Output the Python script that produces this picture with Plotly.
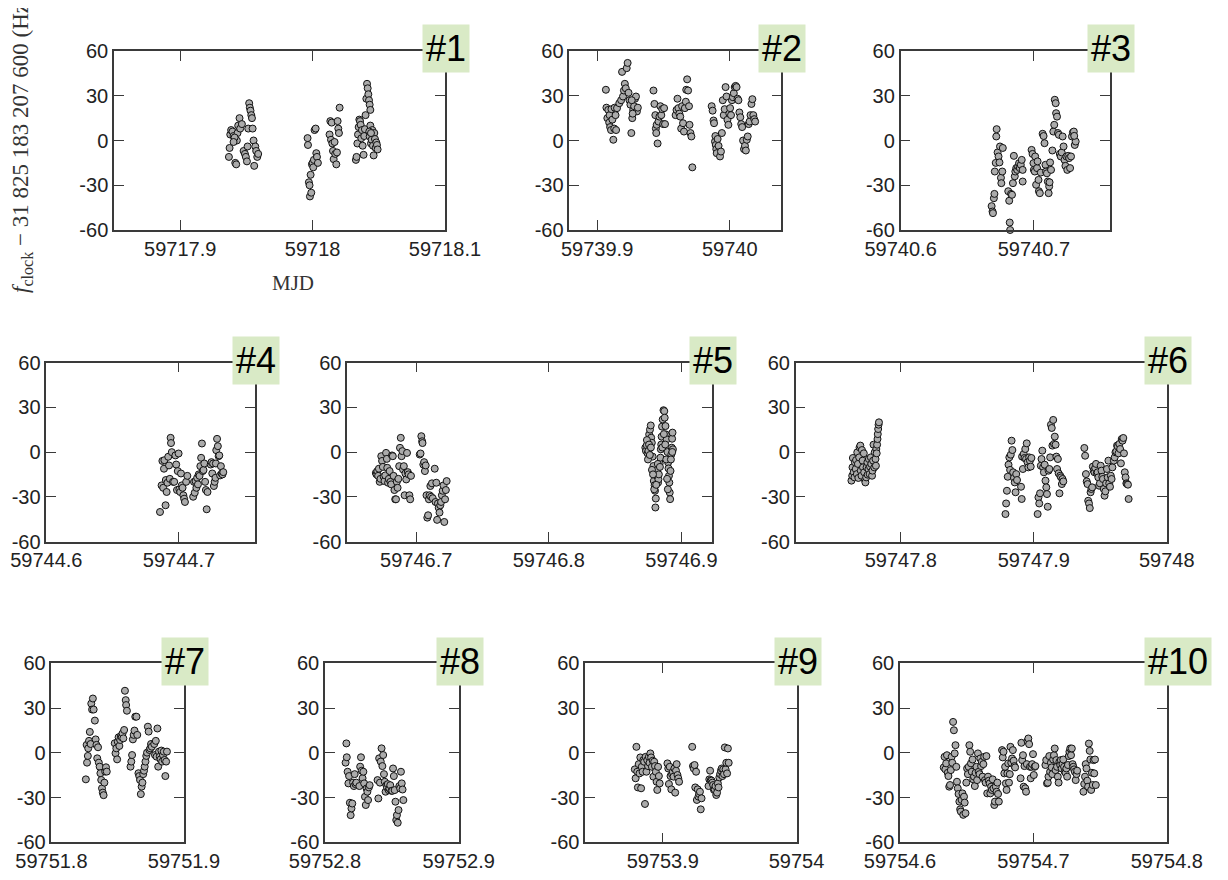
import plotly.graph_objects as go

# ---------------- data (MJD, f_clock - 31 825 183 207 600 Hz) ----------------
mjd_1 = [59717.9368, 59717.9373, 59717.9378, 59717.9385, 59717.9395, 59717.9403, 59717.9416, 59717.9423, 59717.9428, 59717.9433,
         59717.9438, 59717.9448, 59717.9453, 59717.9466, 59717.9479, 59717.9489, 59717.9496, 59717.9504, 59717.9509, 59717.9514,
         59717.9521, 59717.9526, 59717.9531, 59717.9537, 59717.9542, 59717.9547, 59717.9554, 59717.9559, 59717.9567, 59717.9574,
         59717.9582, 59717.9589, 59717.9411, 59717.9403,
         59717.9962, 59717.9965, 59717.9972, 59717.9977, 59717.9980, 59717.9985, 59717.9990, 59717.9995, 59718.0000, 59718.0005,
         59718.0010, 59718.0015, 59718.0023, 59718.0028, 59718.0033, 59718.0040,
         59718.0128, 59718.0134, 59718.0139, 59718.0144, 59718.0149, 59718.0154, 59718.0159, 59718.0166, 59718.0171, 59718.0179,
         59718.0184, 59718.0189, 59718.0194, 59718.0199, 59718.0204,
         59718.0327, 59718.0332, 59718.0338, 59718.0343, 59718.0348, 59718.0353, 59718.0358, 59718.0363, 59718.0368, 59718.0373,
         59718.0378, 59718.0385, 59718.0390, 59718.0395, 59718.0400, 59718.0406, 59718.0411, 59718.0416, 59718.0421, 59718.0426,
         59718.0431, 59718.0436, 59718.0431, 59718.0436, 59718.0441, 59718.0446, 59718.0451, 59718.0456, 59718.0461, 59718.0466,
         59718.0471, 59718.0476, 59718.0481, 59718.0486, 59718.0491, 59718.0428, 59718.0441]
df_1 = [-11, -5, 4, 7, 6, 3, -15, -16, 0, 5, 10, 15, 8, 11, -7, -9, -11, -14, -4, 8, 25, 22, 20, 17, 15, 8, 0, -17, -4, -7, -11, -9, 2, -1,
        1.6, -3, -28, -30, -37.5, -23, -35, -16, -15, -18, -13, 7, 8, -8.5, -11, -15,
        4, 13, 0.5, 12, -2, -7, -12.5, -1, -9, -16, -8, 13, 8, 5, 22,
        -13, -11, -2, 4, 9, 14, 13, 10.5, 1.5, 7, -3.5, -9.6, 3, 7.6, 17, 28, 38, 35, 31, 27,
        24, 20.5, 2.7, 10, -2, 0.5, 7, -3.5, -10, 5, 1, -5, -1.3, -3, -6, 6, 5]

mjd_2 = [59739.9066, 59739.9070, 59739.9077, 59739.9084, 59739.9091, 59739.9094, 59739.9098, 59739.9105, 59739.9108, 59739.9115,
         59739.9122, 59739.9129, 59739.9132, 59739.9139, 59739.9143, 59739.9150, 59739.9167, 59739.9181, 59739.9188, 59739.9195,
         59739.9202, 59739.9209, 59739.9216, 59739.9223, 59739.9230, 59739.9237, 59739.9244, 59739.9251, 59739.9258, 59739.9265,
         59739.9272, 59739.9279, 59739.9286, 59739.9293, 59739.9300, 59739.9307, 59739.9268, 59739.9261,
         59739.9425, 59739.9432, 59739.9439, 59739.9443, 59739.9446, 59739.9449, 59739.9456, 59739.9463, 59739.9470, 59739.9477,
         59739.9484, 59739.9491, 59739.9498, 59739.9505, 59739.9512,
         59739.9592, 59739.9599, 59739.9606, 59739.9613, 59739.9620, 59739.9627, 59739.9634, 59739.9641, 59739.9648, 59739.9655,
         59739.9662, 59739.9669, 59739.9672, 59739.9679, 59739.9686, 59739.9693, 59739.9697, 59739.9704, 59739.9711, 59739.9718,
         59739.9864, 59739.9871, 59739.9878, 59739.9882, 59739.9889, 59739.9892, 59739.9895, 59739.9899, 59739.9902, 59739.9909,
         59739.9916, 59739.9927, 59739.9934, 59739.9941, 59739.9948, 59739.9955, 59739.9962, 59739.9969, 59739.9976, 59739.9983,
         59739.9990, 59739.9997, 59740.0003, 59740.0010, 59740.0017, 59740.0024, 59740.0031, 59740.0038, 59740.0045, 59740.0052,
         59740.0059, 59740.0066, 59740.0073, 59740.0080, 59740.0087, 59740.0094, 59740.0101, 59740.0108, 59740.0115, 59740.0122,
         59740.0129, 59740.0136, 59740.0143, 59740.0150, 59740.0157, 59740.0164, 59740.0171, 59740.0178, 59740.0185, 59740.0192]
df_2 = [34, 22, 15, 20.5, 12, 17, 9, 7, 21, 14, 0.5, 8, 22, 17, 7, 21.7, 25, 27, 46, 29.5,
        33.5, 38, 35, 48.5, 52, 32, 27, 24, 5, 15, 20.5, 23, 28, 29.5, 19.5, 22, 18, 27,
        33.5, 24.5, 17, 8, 5, 10.5, -2, 12.7, 16, 23, 17, 21, 11, 21.7, 11,
        17, 20.5, 28, 21.7, 18, 16, 8, 23, 11.6, 6, 21.7, 26, 34, 41, 33.5, 23, 10.5, 5, 2.7, -18,
        23, 20, 13.4, 11.6, -0.7, 3, -3, -5.8, -8.5, 1, -3.6, -10.7, -7.4, 5, 27, 17, 21, 35.8, 29.5, 13.9,
        10.5, 18, 21.7, 17, 27, 29, 31.7, 35.8, 36.6, 35.8, 28, 27, 18.8, 15.6, 11, 9, 0, -5.8, -3.6, -6.7,
        0.5, 2.7, 11, 12.7, 17, 24.5, 27.7, 17, 14.3, 12.7]

mjd_3 = [59740.6683, 59740.6690, 59740.6693, 59740.6700, 59740.6704, 59740.6707, 59740.6714, 59740.6718, 59740.6721, 59740.6728,
         59740.6735, 59740.6742, 59740.6746, 59740.6753, 59740.6756, 59740.6763, 59740.6767, 59740.6808, 59740.6815, 59740.6819,
         59740.6822, 59740.6829, 59740.6836, 59740.6843, 59740.6850, 59740.6857, 59740.6861, 59740.6868, 59740.6875, 59740.6882,
         59740.6889, 59740.6895, 59740.6902, 59740.6909, 59740.6916, 59740.6916, 59740.6983, 59740.6990, 59740.6997, 59740.7000,
         59740.7007, 59740.7010, 59740.7017, 59740.7024, 59740.7028, 59740.7035, 59740.7038, 59740.7045, 59740.7052, 59740.7066,
         59740.7073, 59740.7080, 59740.7087, 59740.7091, 59740.7098, 59740.7105, 59740.7111, 59740.7115, 59740.7118, 59740.7122,
         59740.7129, 59740.7139, 59740.7146, 59740.7153, 59740.7157, 59740.7164, 59740.7167, 59740.7174, 59740.7181, 59740.7188,
         59740.7195, 59740.7202, 59740.7209, 59740.7216, 59740.7223, 59740.7230, 59740.7237, 59740.7244, 59740.7251, 59740.7258,
         59740.7265, 59740.7272, 59740.7279, 59740.7286, 59740.7293, 59740.7300, 59740.7307, 59740.7314, 59740.7303]
df_3 = [-44, -47.6, -48.7, -38.7, -35.8, -20.8, -15, 2.7, 7.6, -8,
        -10.7, -14.7, -4, -25, -28.6, -20.8, -5, -34, -40.4, -55,
        -60, -35.8, -36.4, -28.6, -10.3, -24, -20.8, -18.5, -19.7, -17.4,
        -15.2, -18.5, -16.3, -13, -27.5, -19.7, -6.3, -9, -15.2, -19.7,
        -20.8, -10.7, -29.7, -18.5, -14, -26.4, -34, -35.3, -21.5, 4.5,
        3, -1.8, -16.3, -20.8, -22, -27.5, -35.3, -30.8, -28, -14.7,
        -19.7, -6.7, 6, 10.5, 27.3, 25, 18.3, 16, 5, 3.8,
        -9, -10.7, -8, 2.7, -4, -13, -17, -10.7, -19.7, -10.3,
        -11.8, -18.5, -10.7, 2.7, 5.4, 6, -3, -0.7, 3.1]

mjd_4 = [59744.6857, 59744.6869, 59744.6875, 59744.6881, 59744.6887, 59744.6890, 59744.6899, 59744.6901, 59744.6907, 59744.6913,
         59744.6919, 59744.6925, 59744.6931, 59744.6937, 59744.6940, 59744.6946, 59744.6955, 59744.6964, 59744.6973, 59744.6979,
         59744.6985, 59744.6991, 59744.6997, 59744.7003, 59744.7009, 59744.7015, 59744.7021, 59744.7027, 59744.7033, 59744.7039,
         59744.7045, 59744.7054, 59744.7063, 59744.7107, 59744.7113, 59744.7119, 59744.7125, 59744.7131, 59744.7137, 59744.7143,
         59744.7149, 59744.7155, 59744.7161, 59744.7167, 59744.7173, 59744.7179, 59744.7185, 59744.7191, 59744.7197, 59744.7203,
         59744.7209, 59744.7215, 59744.7239, 59744.7245, 59744.7251, 59744.7257, 59744.7263, 59744.7269, 59744.7275, 59744.7278,
         59744.7281, 59744.7287, 59744.7293, 59744.7299, 59744.7304, 59744.7310, 59744.7316, 59744.7322, 59744.7328, 59744.7334]
df_4 = [-40.2, -22.4, -6, -24, -11.2, -5.5, -35.7, -18.8, -26.8, -20.6,
        -3.2, -9, -18, 9.5, 6, -0.1, -20, -20, -2.3, -8.4,
        -25.5, -12.8, -1, -25, -26.8, -14.4, -22.4, -24, -29, -31.3,
        -33.5, -20, -16, -30, -20, -27.3, -19.5, -24, -17.3, -21.7,
        -15, -16, -9.5, -3.9, 5.7, -12.8, -12.1, -7.7, -20, -25.5,
        -38.4, -26.8, -8.4, -6.8, -14.4, -7.7, -22.8, -20, -17.3, -7.7,
        1.2, 8.8, 3.9, -2.8, -2.3, -15.7, -9.5, -14.4, -15, -13.5]

mjd_5 = [59746.6696, 59746.6701, 59746.6707, 59746.6713, 59746.6719, 59746.6725, 59746.6731, 59746.6737, 59746.6743, 59746.6749,
         59746.6755, 59746.6761, 59746.6767, 59746.6773, 59746.6779, 59746.6782, 59746.6788, 59746.6794, 59746.6800, 59746.6806,
         59746.6812, 59746.6818, 59746.6824, 59746.6830, 59746.6836, 59746.6842, 59746.6848, 59746.6854, 59746.6860, 59746.6866,
         59746.6872, 59746.6878, 59746.6884, 59746.6890, 59746.6896, 59746.6901, 59746.6907, 59746.6913, 59746.6919, 59746.6925,
         59746.6931, 59746.6937, 59746.6943, 59746.6949, 59746.6955, 59746.6961, 59746.7027, 59746.7033, 59746.7039, 59746.7045,
         59746.7048, 59746.7054, 59746.7060, 59746.7066, 59746.7072, 59746.7078, 59746.7084, 59746.7090, 59746.7096, 59746.7101,
         59746.7107, 59746.7113, 59746.7119, 59746.7125, 59746.7140, 59746.7146, 59746.7152, 59746.7158, 59746.7164, 59746.7170,
         59746.7176, 59746.7182, 59746.7188, 59746.7194, 59746.7200, 59746.7206, 59746.7212, 59746.7218, 59746.7224, 59746.7230,
         59746.8728, 59746.8733, 59746.8739, 59746.8745, 59746.8751, 59746.8757, 59746.8763, 59746.8769, 59746.8772, 59746.8777,
         59746.8783, 59746.8789, 59746.8792, 59746.8798, 59746.8801, 59746.8804, 59746.8807, 59746.8813, 59746.8818, 59746.8824,
         59746.8827, 59746.8830, 59746.8836, 59746.8842, 59746.8845, 59746.8851, 59746.8854, 59746.8859, 59746.8865, 59746.8871,
         59746.8874, 59746.8880, 59746.8883, 59746.8889, 59746.8895, 59746.8900, 59746.8903, 59746.8906, 59746.8909, 59746.8912,
         59746.8915, 59746.8918, 59746.8924, 59746.8927, 59746.8930, 59746.8933, 59746.8936,
         59746.8740, 59746.8748, 59746.8756, 59746.8762, 59746.8770, 59746.8778, 59746.8786, 59746.8795, 59746.8810, 59746.8822,
         59746.8838, 59746.8848, 59746.8856, 59746.8868, 59746.8878, 59746.8886, 59746.8892, 59746.8898, 59746.8921, 59746.8931]
df_5 = [-14, -15, -12.8, -16, -11.2, -20, -18, -2.8, -6, -10,
        -16.6, -19.5, -15.7, -0.6, -4.6, -10.6, -20.6, -18, -12.8, -20,
        -21.7, -2.3, -2.8, -16, -25.5, -31.7, -31.7, -20, -24, -18,
        -9.5, 2.8, 9.5, -2.8, 0.6, -11.7, -9.5, -29, -14.4, -18.4,
        -0.6, -13.5, -15, -29, -31.7, -16, -1.7, -1, 10.6, 7.2,
        6, -8.4, -6.8, -12.8, -9, -29, -44, -42.4, -31.7, -29,
        -22.8, -30, -21, -31, -11.2, -33.5, -20.6, -45.5, -34.5, -37.4,
        -40.6, -35.7, -33.5, -29, -26, -22.4, -46.9, -31.7, -25.5, -19.5,
        2.9, 0.7, 4.5, -0.9, 0.7, 11.8, 15, 17.8, 9.6, 6.2,
        -3.1, -9.4, -19.4, -22.3, -26, -37.2, -31.2, -16, -12, -20.5,
        -18.3, -15, -7.6, -3.8, 1.8, 10.3, 17, 21.8, 28, 27.4,
        23, 17.4, 11.8, 8.5, 0, -7, -11, -16, -20.5, -27.2,
        -31.6, -12.7, -1.6, 2.9, 8.9, 13, 1.8,
        8, -5, 5, -2, 3, -12, -15, -25, -22, -8,
        -10, 5, 3, 12, 5, -5, -18, -25, -5, 0]

mjd_6 = [59747.7629, 59747.7635, 59747.7637, 59747.7640, 59747.7646, 59747.7652, 59747.7655, 59747.7661, 59747.7664, 59747.7670,
         59747.7673, 59747.7678, 59747.7681, 59747.7687, 59747.7690, 59747.7696, 59747.7699, 59747.7705, 59747.7708, 59747.7713,
         59747.7716, 59747.7722, 59747.7725, 59747.7731, 59747.7734, 59747.7740, 59747.7743, 59747.7749, 59747.7751, 59747.7757,
         59747.7760, 59747.7766, 59747.7769, 59747.7775, 59747.7778, 59747.7784, 59747.7787, 59747.7792, 59747.7795, 59747.7801,
         59747.7804, 59747.7810, 59747.7813, 59747.7816, 59747.7819, 59747.7822, 59747.7825, 59747.7827, 59747.7830, 59747.7833,
         59747.7836,
         59747.8787, 59747.8792, 59747.8798, 59747.8804, 59747.8810, 59747.8816, 59747.8822, 59747.8827, 59747.8833, 59747.8839,
         59747.8845, 59747.8851, 59747.8857, 59747.8863, 59747.8868, 59747.8874, 59747.8904, 59747.8909, 59747.8912, 59747.8918,
         59747.8924, 59747.8930, 59747.8936, 59747.8942, 59747.8947, 59747.8953, 59747.8959, 59747.8965, 59747.8971, 59747.8977,
         59747.8982, 59747.9029, 59747.9035, 59747.9041, 59747.9047, 59747.9053, 59747.9058, 59747.9064, 59747.9070, 59747.9076,
         59747.9082, 59747.9088, 59747.9094, 59747.9099, 59747.9105, 59747.9111, 59747.9117, 59747.9123, 59747.9129, 59747.9135,
         59747.9140, 59747.9146, 59747.9152, 59747.9158, 59747.9164, 59747.9170, 59747.9175, 59747.9181, 59747.9187, 59747.9193,
         59747.9199, 59747.9205, 59747.9211, 59747.9216, 59747.9222,
         59747.9380, 59747.9386, 59747.9392, 59747.9398, 59747.9404, 59747.9409, 59747.9415, 59747.9421, 59747.9427, 59747.9433,
         59747.9439, 59747.9444, 59747.9450, 59747.9456, 59747.9462, 59747.9468, 59747.9474, 59747.9480, 59747.9485, 59747.9491,
         59747.9497, 59747.9503, 59747.9509, 59747.9515, 59747.9520, 59747.9526, 59747.9532, 59747.9538, 59747.9544, 59747.9550,
         59747.9556, 59747.9561, 59747.9567, 59747.9573, 59747.9579, 59747.9585, 59747.9591, 59747.9602, 59747.9608, 59747.9614,
         59747.9620, 59747.9626, 59747.9632, 59747.9637, 59747.9643, 59747.9649, 59747.9655, 59747.9661, 59747.9667, 59747.9673,
         59747.9678, 59747.9684, 59747.9690, 59747.9696, 59747.9702, 59747.9708, 59747.9713]
df_6 = [-19.2, -15.9, -10.3, -4, -13.6, -17, -6.9, -11.4, -5.4, -14.8,
        -0.2, -8, -17.4, -3.6, 3.1, 4.3, -12.5, -15.9, 1.3, -5.8,
        -10.3, -0.9, -13.6, -18.8, -20.4, -17, -10.3, -6.9, -15.2, -11.4,
        -4.7, -14.8, -9.8, -3.6, -8, -15.9, -12.5, -5.8, 4.9, -10.3,
        -0.2, -4.7, -9.2, 2, -0.9, 4.9, 8.7, 12, 15.4, 18.3,
        19.9,
        -41.6, -34.5, -26, -16.6, -8.5, -3.6, -12, -1.8, 7.6, 1.3,
        -13.6, -17.4, -20.4, -27, -14.8, -18.8, -23.3, -31.5, -3.1, -11.4,
        -1.3, -4, 2, -4.7, 5.8, -6.9, -10.3, -3.6, -5.8, -9.8,
        -4, -41.6, -30.4, -34.5, -27.7, -9.2, -4.7, 0.9, -10.3, -13.6,
        -8.5, -19.2, -23.7, -28.2, -36.7, -12.5, -11.4, -3.6, 18.3, 16.1,
        4.3, 21.5, 5.4, 10.3, 4.9, -3.1, -11.4, -4.7, -14.3, -27.7,
        -15.9, -17, -21.5, -18.1, -19.7,
        2.7, -2.5, -14.8, -19.7, -21.5, -32.7, -34.5, -37.6, -27, -24.8,
        -23.7, -9.8, -12.5, -13.6, -10.7, -8, -14.3, -13.6, -17, -22.6,
        -21, -9.2, -12.5, -16.6, -18.1, -24.8, -29.3, -26.4, -21, -11.4,
        -17, -5.8, -21, -23.3, -15.9, -18.1, -10.3, -5.8, -3.6, -0.2,
        0.4, 4.3, 3.6, -0.9, 5.4, 2, -7.6, 8.7, 7.6, 9.4,
        -0.9, -13.6, -17, -21, -21.5, -21.9, -31.5]

mjd_7 = [59751.8260, 59751.8266, 59751.8269, 59751.8275, 59751.8278, 59751.8284, 59751.8290, 59751.8296, 59751.8301, 59751.8307,
         59751.8313, 59751.8319, 59751.8328, 59751.8334, 59751.8340, 59751.8346, 59751.8352, 59751.8358, 59751.8364, 59751.8370,
         59751.8376, 59751.8382, 59751.8388, 59751.8394, 59751.8400, 59751.8406, 59751.8412, 59751.8418, 59751.8478, 59751.8484,
         59751.8490, 59751.8496, 59751.8501, 59751.8507, 59751.8513, 59751.8519, 59751.8525, 59751.8531, 59751.8537, 59751.8543,
         59751.8549, 59751.8555, 59751.8561, 59751.8564, 59751.8570, 59751.8597, 59751.8603, 59751.8609, 59751.8615, 59751.8621,
         59751.8627, 59751.8633, 59751.8642, 59751.8648, 59751.8657, 59751.8663, 59751.8669, 59751.8675, 59751.8681, 59751.8687,
         59751.8693, 59751.8699, 59751.8704, 59751.8710, 59751.8716, 59751.8722, 59751.8728, 59751.8734, 59751.8740, 59751.8746,
         59751.8752, 59751.8758, 59751.8776, 59751.8782, 59751.8788, 59751.8794, 59751.8800, 59751.8806, 59751.8812, 59751.8818,
         59751.8824, 59751.8830, 59751.8836, 59751.8842, 59751.8848, 59751.8854, 59751.8860, 59751.8866, 59751.8872]
df_7 = [-17.8, 5.3, -6.6, -2.1, 3, 8, 14, 5.9, 33, 29,
        36.4, 29, 21.6, 9, 5.3, -3.7, 3.7, -6.6, -9.3, -13.7,
        -18.2, -23.8, -26.7, -28.4, -20, -12.6, -9.7, -12.6, 6.4, -0.3,
        3, -4.4, 7.4, 10.4, 4.6, 8.6, 11.3, 10.4, 13, 9.7,
        15.3, 41.6, 35.3, 32, 28.2, -9.3, -5.9, -1.5, 9, 12,
        14.9, 24.2, 24.2, 12, -13.7, -15.6, -18.2, -27.7, -22.7, -20,
        -14.3, -12, -9.3, -5.9, -2.1, 0.1, 17.5, 14.2, 1.9, 3,
        5.9, 4.1, 5.9, -1.5, 8, -2.6, 16.3, -9.3, 0.8, -2.6,
        -4.4, 1.5, -5.9, -1.5, 0.8, -4.8, -15.6, -5.9, 0.8]

mjd_8 = [59752.8154, 59752.8160, 59752.8163, 59752.8169, 59752.8175, 59752.8180, 59752.8186, 59752.8192, 59752.8198, 59752.8204,
         59752.8210, 59752.8216, 59752.8222, 59752.8228, 59752.8234, 59752.8257, 59752.8263, 59752.8269, 59752.8275, 59752.8281,
         59752.8287, 59752.8293, 59752.8299, 59752.8305, 59752.8311, 59752.8317, 59752.8322, 59752.8328, 59752.8334, 59752.8393,
         59752.8399, 59752.8405, 59752.8411, 59752.8417, 59752.8423, 59752.8429, 59752.8435, 59752.8441, 59752.8447, 59752.8453,
         59752.8459, 59752.8464, 59752.8470, 59752.8476, 59752.8482, 59752.8488, 59752.8497, 59752.8503, 59752.8509, 59752.8515,
         59752.8521, 59752.8527, 59752.8533, 59752.8538, 59752.8544, 59752.8550, 59752.8556, 59752.8562, 59752.8568, 59752.8574,
         59752.8580, 59752.8586]
df_8 = [-6.6, 6.3, -3, -12.7, -20.5, -15.6, -33.5, -41.8, -37.3, -34,
        -20, -22.3, -14.3, -21, -20, -22.3, -9.3, -3, -12, -17,
        -12.7, -20.5, -29.5, -35, -23.9, -26.1, -31.7, -23.2, -21.7, -18.3,
        -30.6, -3.7, -20, -5.9, 3, -8.9, -1.5, -14.3, -19.4, -26.1,
        -21.7, -23.2, -21, -25, -23.9, -21.7, -25.5, -25.5, -10.5, -15.6,
        -25, -32.8, -45.1, -41.8, -46.9, -38.4, -22.3, -23.9, -12.7, -20.5,
        -24.6, -31.7]

mjd_9 = [59753.8791, 59753.8797, 59753.8803, 59753.8809, 59753.8814, 59753.8820, 59753.8826, 59753.8832, 59753.8838, 59753.8843,
         59753.8849, 59753.8855, 59753.8861, 59753.8867, 59753.8872, 59753.8878, 59753.8884, 59753.8890, 59753.8896, 59753.8901,
         59753.8907, 59753.8913, 59753.8919, 59753.8925, 59753.8930, 59753.8936, 59753.8942, 59753.8948, 59753.8954, 59753.8959,
         59753.8965, 59753.8971, 59753.8977, 59753.9035, 59753.9041, 59753.9046, 59753.9052, 59753.9058, 59753.9064, 59753.9070,
         59753.9075, 59753.9081, 59753.9087, 59753.9093, 59753.9099, 59753.9104, 59753.9110, 59753.9116, 59753.9122, 59753.9220,
         59753.9226, 59753.9232, 59753.9238, 59753.9243, 59753.9249, 59753.9255, 59753.9261, 59753.9267, 59753.9272, 59753.9278,
         59753.9284, 59753.9290, 59753.9342, 59753.9348, 59753.9354, 59753.9359, 59753.9365, 59753.9371, 59753.9377, 59753.9383,
         59753.9388, 59753.9394, 59753.9400, 59753.9406, 59753.9412, 59753.9417, 59753.9423, 59753.9429, 59753.9435, 59753.9441,
         59753.9446, 59753.9452, 59753.9458, 59753.9464, 59753.9470, 59753.9475, 59753.9481, 59753.9487, 59753.9493]
df_9 = [-11.1, -17.1, 4, -12.7, -23.2, -7.6, -13.8, -3.1, -23.8, -9.4,
        -12.7, -4.9, -6, -34.3, -2.7, -12.7, -4.9, -8.9, -2.7, -6.7,
        -0.4, -3.1, -9.4, -5.3, -16, -6, -8.9, -12.7, -19.4, -24.9,
        -9.4, -15.6, -20.5, -7.1, -10.5, -20.9, -9.4, -15.6, -24.5, -14.3,
        -12.7, -16, -10.5, -26.7, -12, -7.6, -14.9, -17.1, -19.4, 4,
        -8.9, -10.5, -8.2, -23.2, -12.7, -31.6, -24.5, -29.4, -27.6, -26.1,
        -37.9, -30.5, -22.3, -17.8, -12, -18.3, -18.7, -20, -21.6, -24.9,
        -24.5, -22.3, -28.3, -26.7, -20.5, -23.2, -16.5, -14.3, -12, -10.5,
        -15.6, -11.1, -14.3, 3.6, -11.1, -6.7, -13.8, 2.9, -6.7]

mjd_10 = [59754.6328, 59754.6334, 59754.6340, 59754.6346, 59754.6352, 59754.6358, 59754.6363, 59754.6369, 59754.6375, 59754.6381,
          59754.6387, 59754.6392, 59754.6398, 59754.6404, 59754.6410, 59754.6416, 59754.6422, 59754.6427, 59754.6433, 59754.6439,
          59754.6445, 59754.6451, 59754.6456, 59754.6462, 59754.6468, 59754.6474, 59754.6480, 59754.6485, 59754.6491, 59754.6497,
          59754.6503, 59754.6509, 59754.6515, 59754.6520, 59754.6526, 59754.6532, 59754.6538, 59754.6544, 59754.6549, 59754.6555,
          59754.6561, 59754.6567, 59754.6573, 59754.6578, 59754.6584, 59754.6590, 59754.6596, 59754.6602, 59754.6608, 59754.6613,
          59754.6619, 59754.6625, 59754.6631, 59754.6637, 59754.6642, 59754.6648, 59754.6654, 59754.6660, 59754.6666, 59754.6672,
          59754.6677, 59754.6683, 59754.6689, 59754.6695, 59754.6701, 59754.6707, 59754.6712, 59754.6718, 59754.6724, 59754.6730,
          59754.6735, 59754.6741, 59754.6765, 59754.6770, 59754.6776, 59754.6782, 59754.6788, 59754.6794, 59754.6799, 59754.6805,
          59754.6811, 59754.6817, 59754.6823, 59754.6828, 59754.6834, 59754.6840, 59754.6846, 59754.6852, 59754.6858, 59754.6863,
          59754.6904, 59754.6910, 59754.6916, 59754.6922, 59754.6927, 59754.6933, 59754.6939, 59754.6945, 59754.6951, 59754.6956,
          59754.6962, 59754.6968, 59754.6974, 59754.6980, 59754.6985, 59754.6991, 59754.6997, 59754.7003, 59754.7009, 59754.7015,
          59754.7090, 59754.7096, 59754.7102, 59754.7108, 59754.7113, 59754.7119, 59754.7125, 59754.7131, 59754.7137, 59754.7142,
          59754.7148, 59754.7154, 59754.7160, 59754.7166, 59754.7172, 59754.7177, 59754.7183, 59754.7189, 59754.7195, 59754.7201,
          59754.7206, 59754.7212, 59754.7218, 59754.7224, 59754.7230, 59754.7235, 59754.7241, 59754.7247, 59754.7253, 59754.7259,
          59754.7265, 59754.7270, 59754.7276, 59754.7282, 59754.7288, 59754.7294, 59754.7299, 59754.7305, 59754.7311, 59754.7317,
          59754.7323, 59754.7328, 59754.7375, 59754.7381, 59754.7387, 59754.7392, 59754.7398, 59754.7404, 59754.7410, 59754.7416,
          59754.7422, 59754.7427, 59754.7433, 59754.7439, 59754.7445, 59754.7451, 59754.7456, 59754.7462, 59754.7468]
df_10 = [-9.8, -2.7, -11.1, -7.1, -1.6, -13.4, -15.6, -22.7, -21.6, -11.6,
         -2.7, -6.7, 20.7, 15.1, -0.4, 5.1, -9.4, -19.4, -23.8, -27.6,
         -32.7, -37.9, -39.4, -31.6, -27.2, -41.6, -29.4, -33.4, -40.5, -20,
         -10.5, -14.3, -9.4, 5.1, 0.7, -7.1, -12.7, -4.5, -17.8, -16,
         -22.3, -13.4, -9.4, -18.3, -0.4, -12.7, -14.3, -3.8, -8.9, -6,
         -16, -7.6, -2.7, -18.3, -20, -2.2, -27.2, -16, -18.7, -20.5,
         -27.2, -22.7, -24.9, -17.8, -23.8, -35, -32.7, -22.7, -26.1, -20,
         -27.6, -32.7, 1.8, -3.1, 0.7, -13.8, -9.4, -20.5, -24.9, -13.8,
         -7.1, -20, -14.3, 4, -6.7, -3.8, 1.8, -5.3, -8.9, -9.8,
         -17.1, 6.7, -4.9, -1.6, -22.7, -8.9, -23.8, -26.1, -7.6, 8,
         9.6, 5.8, -9.4, -17.1, -9.4, -7.6, -0.9, -14.9, -9.4, -8.9,
         -8.2, -4.9, -20.5, -20, -16, -2.2, -12.7, -6.7, -9.8, -14.3,
         -4.5, -1.6, 2.9, -11.6, -4.9, -9.4, -16, -20, -6, -8.2,
         -4.9, -10.5, -7.6, -4.5, -9.4, -12.7, -13.4, -10.5, -16, -8.2,
         -2.2, 0.7, 2.9, -1.6, 2.9, -7.6, -9.4, -11.1, -12.7, -18.3,
         -14.3, -12, -26.1, -20.9, -16, -7.6, -10.5, -18.7, -22.7, 6.2,
         1.3, -4.5, -24.9, -13.4, -21.6, -4.9, -13.8, -4.5, -21.6]

# tick values / labels
y_tickvals = [-60, -30, 0, 30, 60]
y_ticktext = ["-60", "-30", "0", "30", "60"]
x_ticks_1 = [59717.9, 59718.0, 59718.1]
x_labels_1 = ["59717.9", "59718", "59718.1"]
x_ticks_2 = [59739.9, 59740.0]
x_labels_2 = ["59739.9", "59740"]
x_ticks_3 = [59740.6, 59740.7]
x_labels_3 = ["59740.6", "59740.7"]
x_ticks_4 = [59744.6, 59744.7]
x_labels_4 = ["59744.6", "59744.7"]
x_ticks_5 = [59746.7, 59746.8, 59746.9]
x_labels_5 = ["59746.7", "59746.8", "59746.9"]
x_ticks_6 = [59747.8, 59747.9, 59748.0]
x_labels_6 = ["59747.8", "59747.9", "59748"]
x_ticks_7 = [59751.8, 59751.9]
x_labels_7 = ["59751.8", "59751.9"]
x_ticks_8 = [59752.8, 59752.9]
x_labels_8 = ["59752.8", "59752.9"]
x_ticks_9 = [59753.9, 59754.0]
x_labels_9 = ["59753.9", "59754"]
x_ticks_10 = [59754.6, 59754.7, 59754.8]
x_labels_10 = ["59754.6", "59754.7", "59754.8"]
panel_labels = ["#1", "#2", "#3", "#4", "#5", "#6", "#7", "#8", "#9", "#10"]

# ---------------- layout geometry (screen pixels; page body has an 8px margin) ----------------
OFF = 8
W, H = 1228 - 2 * OFF, 880 - 2 * OFF
panels = [
    dict(x=mjd_1, y=df_1, xr=[59717.85, 59718.1], tv=x_ticks_1, tt=x_labels_1, px=(114, 445), py=(51, 230)),
    dict(x=mjd_2, y=df_2, xr=[59739.879, 59740.039], tv=x_ticks_2, tt=x_labels_2, px=(569.3, 781.4), py=(51, 230)),
    dict(x=mjd_3, y=df_3, xr=[59740.6, 59740.757], tv=x_ticks_3, tt=x_labels_3, px=(900.6, 1109.8), py=(51, 230)),
    dict(x=mjd_4, y=df_4, xr=[59744.6, 59744.757], tv=x_ticks_4, tt=x_labels_4, px=(46.3, 254.6), py=(362.5, 541.5)),
    dict(x=mjd_5, y=df_5, xr=[59746.648, 59746.923], tv=x_ticks_5, tt=x_labels_5, px=(347.2, 711.9), py=(362.5, 541.5)),
    dict(x=mjd_6, y=df_6, xr=[59747.721, 59748.0], tv=x_ticks_6, tt=x_labels_6, px=(795.7, 1166.8), py=(362.5, 541.5)),
    dict(x=mjd_7, y=df_7, xr=[59751.8, 59751.9], tv=x_ticks_7, tt=x_labels_7, px=(51.4, 183.9), py=(663.3, 842.3)),
    dict(x=mjd_8, y=df_8, xr=[59752.8, 59752.9], tv=x_ticks_8, tt=x_labels_8, px=(325, 458.7), py=(663.3, 842.3)),
    dict(x=mjd_9, y=df_9, xr=[59753.842, 59754.0], tv=x_ticks_9, tt=x_labels_9, px=(585.2, 796.5), py=(663.3, 842.3)),
    dict(x=mjd_10, y=df_10, xr=[59754.6, 59754.8], tv=x_ticks_10, tt=x_labels_10, px=(900, 1166.8), py=(663.3, 842.3)),
]


def fx(px):
    return (px - OFF) / W


def fy(py):
    return 1 - (py - OFF) / H


AX_COLOR = "#3a3a3a"
TICK_FONT = dict(family="Liberation Sans, Arial, sans-serif", size=20, color="#222222")

fig = go.Figure()
layout = dict(
    width=W, height=H, margin=dict(l=0, r=0, t=0, b=0, pad=0, autoexpand=False),
    paper_bgcolor="white", plot_bgcolor="white", showlegend=False,
)
annotations = []

for i, p in enumerate(panels, start=1):
    n = min(len(p["x"]), len(p["y"]))
    xa = "x" if i == 1 else f"x{i}"
    ya = "y" if i == 1 else f"y{i}"
    fig.add_trace(go.Scatter(
        x=p["x"][:n], y=p["y"][:n], mode="markers", xaxis=xa, yaxis=ya, cliponaxis=False,
        marker=dict(size=7, color="#ababab", line=dict(color="#111111", width=1)),
        hoverinfo="x+y",
    ))
    common = dict(showgrid=False, zeroline=False, showline=True, linecolor=AX_COLOR, linewidth=1.5,
                  mirror="ticks", ticks="inside", ticklen=10, tickwidth=1.3, tickcolor=AX_COLOR,
                  tickfont=TICK_FONT, fixedrange=True, automargin=False)
    layout["xaxis" if i == 1 else f"xaxis{i}"] = dict(
        domain=[fx(p["px"][0]), fx(p["px"][1])], anchor=ya, range=p["xr"],
        tickmode="array", tickvals=p["tv"], ticktext=p["tt"], **common)
    layout["yaxis" if i == 1 else f"yaxis{i}"] = dict(
        domain=[fy(p["py"][1]), fy(p["py"][0])], anchor=xa, range=[-60, 60],
        tickmode="array", tickvals=y_tickvals, ticktext=y_ticktext, **common)
    annotations.append(dict(
        text=panel_labels[i - 1], xref=f"{xa} domain", yref=f"{ya} domain", x=1, y=1,
        xanchor="left", yanchor="middle", xshift=-23, yshift=2, showarrow=False,
        font=dict(family="Liberation Sans, Arial, sans-serif", size=36, color="black"),
        bgcolor="#d9eac6", borderpad=3,
    ))

# axis titles (only on first panel)
annotations.append(dict(
    text="<i>f</i><sub>clock</sub> − 31 825 183 207 600 (Hz)", xref="paper", yref="paper",
    x=fx(22), y=fy(144), textangle=-90, showarrow=False, xanchor="center", yanchor="middle",
    font=dict(family="Liberation Serif, Times New Roman, serif", size=23, color="#333333"),
))
annotations.append(dict(
    text="MJD", xref="paper", yref="paper", x=fx(293), y=fy(283), showarrow=False,
    xanchor="center", yanchor="middle",
    font=dict(family="Liberation Serif, Times New Roman, serif", size=21, color="#333333"),
))
layout["annotations"] = annotations
fig.update_layout(**layout)
fig.write_html("out.html")
